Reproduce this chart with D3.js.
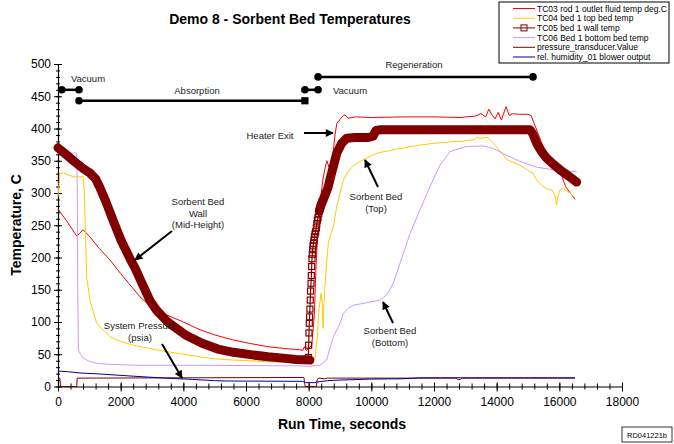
<!DOCTYPE html>
<html>
<head>
<meta charset="utf-8">
<script src="https://cdn.jsdelivr.net/npm/d3@7"></script>
<style>
    body { margin: 0; background: #fff; }
    svg { display: block; font-family: Arial, "Liberation Sans", sans-serif; }
</style>
</head>
<body>
<div id="chart"></div>
<script>
// Readings taken off the plot (time in seconds, value in C or psia)
var tc03Time = [0, 300, 600, 700, 800, 1000, 1300, 1660, 2000, 2617, 3000, 3468, 4000, 4532, 5000, 5595, 6100, 6659, 7200, 7723, 7820, 7860, 7920, 8000, 8100, 8180, 8230, 8280, 8330, 8380, 8450, 8530, 8580, 8650, 8700, 8780, 8840, 8900, 9000, 9100, 9160, 9260, 9500, 10000, 11000, 12000, 12900, 13000, 13300, 13500, 13650, 13750, 13850, 13950, 14050, 14150, 14300, 14400, 14500, 14700, 15000, 15100, 15300, 15500, 15700, 15900, 16050, 16200, 16350, 16500];
var tc03Temp = [275, 255, 233, 238, 243, 233, 215, 196, 175, 139, 122, 111, 100, 88, 80, 72, 67, 62, 59, 57, 56, 62, 56, 58, 65, 110, 180, 230, 250, 290, 320, 340, 350, 340, 345, 362, 390, 408, 414, 420, 421, 416, 418, 417, 418, 418, 417, 418, 419, 423, 418, 430, 421, 415, 425, 413, 434, 420, 423, 422, 422, 420, 395, 370, 355, 340, 330, 310, 300, 290];

var tc04Time = [0, 60, 170, 490, 750, 800, 840, 870, 915, 1020, 1235, 1660, 2000, 2404, 3000, 3468, 4000, 4532, 5000, 5595, 6100, 6659, 7200, 7723, 8100, 8200, 8280, 8330, 8400, 8430, 8460, 8490, 8521, 8580, 8627, 8700, 8786, 8900, 9000, 9106, 9250, 9425, 9600, 9800, 10200, 10915, 11500, 11978, 12500, 13043, 13300, 13360, 13500, 13700, 13787, 13893, 13947, 14106, 14212, 14319, 14500, 14745, 15000, 15170, 15277, 15436, 15649, 15755, 15850, 15915, 15960, 16021, 16128, 16250, 16340, 16500];
var tc04Temp = [294, 330, 331, 325, 325, 326, 300, 250, 170, 134, 98, 77, 70, 64, 58, 54, 50, 46, 43, 41, 40, 38.5, 37.5, 37, 38, 44, 80, 120, 145, 130, 90, 130, 155, 195, 222, 235, 248, 280, 300, 320, 333, 342, 348, 353, 362, 369, 374, 377, 379, 381, 383, 386, 385, 386, 383, 377, 374, 365, 359, 352, 348, 343, 335, 330, 320, 312, 305, 305, 298, 282, 295, 305, 307, 303, 300, 292];

// TC05 wall: cooling run, heating run, and the sparse samples on the fast rise
var tc05CoolTime = [0, 200, 540, 800, 1020, 1200, 1340, 1550, 1755, 2000, 2300, 2457, 2700, 2936, 3150, 3500, 4100, 4600, 5100, 5600, 6200, 6700, 7180, 7600, 8040];
var tc05CoolTemp = [370, 362, 348, 338, 331, 322, 308, 284, 258, 228, 198, 184, 158, 133, 118, 100, 79, 67, 58, 53, 49, 46, 44, 42, 41];
var tc05RiseTime = [7990, 8000, 8010, 8020, 8030, 8040, 8050, 8060, 8075, 8085, 8095, 8105, 8116, 8128, 8140, 8155, 8170, 8185, 8200, 8224, 8245, 8260, 8280, 8300, 8320, 8340, 8370, 8400, 8430];
var tc05RiseTemp = [45, 64, 83, 98, 108, 120, 134, 148, 160, 172, 186, 198, 205, 212, 218, 222, 227, 232, 236, 240, 246, 252, 258, 262, 268, 272, 278, 282, 286];
var tc05HeatTime = [8340, 8400, 8467, 8550, 8627, 8700, 8786, 8900, 9054, 9213, 9500, 9900, 10050, 10150, 10300, 11000, 12000, 13000, 14000, 15064, 15150, 15277, 15450, 15596, 15800, 16021, 16300, 16553];
var tc05HeatTemp = [272, 282, 290, 300, 310, 325, 341, 362, 377, 385, 386, 386, 388, 397, 398, 398, 398, 398, 398, 398, 392, 377, 363, 354, 345, 336, 326, 317];

var tc06Time = [0, 400, 600, 617, 630, 650, 720, 808, 1000, 1235, 1600, 2404, 4000, 6000, 7723, 8043, 8256, 8361, 8450, 8575, 8681, 8787, 9000, 9106, 9250, 9425, 9650, 9850, 10276, 10490, 10702, 10915, 11234, 11553, 11872, 12191, 12510, 12800, 13043, 13574, 13893, 14212, 14745, 15277, 15808, 16553];
var tc06Temp = [362, 362, 362, 300, 150, 57, 50, 44, 39, 36, 34.5, 33, 33, 32.5, 32, 31, 33, 33, 36, 41, 60, 77, 98, 113, 121, 126, 128, 130, 134, 142, 160, 191, 237, 274, 310, 343, 364, 369, 372, 373, 369, 361, 349, 340, 336, 333];

var pressTime = [0, 60, 80, 600, 610, 7830, 7850, 7870, 7890, 8250, 8270, 8330, 8500, 8600, 12700, 12750, 12850, 12900, 16500];
var pressVal = [13, 13, 0, 0, 13, 14, 14, 5, 0, 0, 11, 13, 12, 13, 13, 11, 11, 13, 13];

var humidTime = [0, 300, 700, 1300, 2400, 3400, 4300, 5000, 5500, 7800, 7900, 8200, 8250, 8600, 9000, 10000, 11000, 11600, 12000, 16500];
var humidVal = [24, 23, 21, 19.5, 16, 13, 11, 9, 8.5, 8, 6, 6, 7, 9, 10, 11.5, 12, 13.5, 13.5, 13.5];

var yTicks = [0, 50, 100, 150, 200, 250, 300, 350, 400, 450, 500];
var xTicks = [0, 2000, 4000, 6000, 8000, 10000, 12000, 14000, 16000, 18000];

// Process phases
var phaseNames = ["Vacuum", "Absorption", "Vacuum", "Regeneration"];
var phaseStart = [120, 670, 7880, 8300];
var phaseEnd = [670, 7880, 8300, 15160];
var phaseLevel = [460, 443, 460, 480];

var legendNames = ["TC03 rod 1 outlet fluid temp deg.C", "TC04 bed 1 top bed temp", "TC05 bed 1 wall temp",
    "TC06 Bed 1 bottom bed temp", "pressure_transducer.Value", "rel. humidity_01 blower output"];

(function() {
    "use strict";

    var width = 674;
    var height = 444;
    var plot = { left: 58, right: 622, top: 64, bottom: 386.5 };
    var colors = { tc03: "#ff0000", tc04: "#ffcc00", tc05: "#800000", tc06: "#cc99ff", press: "#800000", humid: "#000099" };

    var svg = d3.select("#chart").append("svg")
        .attr("width", width)
        .attr("height", height);

    var defs = svg.append("defs");
    defs.append("marker")
        .attr("id", "arrow")
        .attr("viewBox", "0 0 10 10")
        .attr("refX", 9)
        .attr("refY", 5)
        .attr("markerWidth", 4.5)
        .attr("markerHeight", 4)
        .attr("markerUnits", "strokeWidth")
        .attr("orient", "auto")
        .append("path")
        .attr("d", "M0,0 L10,5 L0,10 z")
        .attr("fill", "#000");

    var x = d3.scaleLinear().domain([0, 18000]).range([plot.left, plot.right]);
    var y = d3.scaleLinear().domain([0, 500]).range([plot.bottom, plot.top]);

    //------------------------------------------------------------------------------------------
    // Axes
    //------------------------------------------------------------------------------------------
    var yMinor = svg.append("g")
        .attr("transform", "translate(" + plot.left + ",0)")
        .call(d3.axisLeft(y).tickValues(d3.range(0, 501, 10)).tickSize(2).tickFormat(""));
    yMinor.selectAll(".tick line").attr("x1", 2);
    yMinor.select(".domain").remove();

    var xMinor = svg.append("g")
        .attr("transform", "translate(0," + plot.bottom + ")")
        .call(d3.axisBottom(x).tickValues(d3.range(0, 18001, 400)).tickSize(3).tickFormat(""));
    xMinor.selectAll(".tick line").attr("y1", -3);
    xMinor.select(".domain").remove();

    var yAxis = svg.append("g")
        .attr("transform", "translate(" + plot.left + ",0)")
        .call(d3.axisLeft(y).tickValues(yTicks).tickSize(4).tickSizeOuter(0));
    yAxis.selectAll(".tick line").attr("x1", 4);
    yAxis.selectAll("text").attr("x", -7).style("font-size", "12px").attr("fill", "#000");

    var xAxis = svg.append("g")
        .attr("transform", "translate(0," + plot.bottom + ")")
        .call(d3.axisBottom(x).tickValues(xTicks).tickSize(5).tickSizeOuter(0).tickFormat(d3.format("d")));
    xAxis.selectAll(".tick line").attr("y1", -4);
    xAxis.selectAll("text").attr("y", 11).style("font-size", "12px").attr("fill", "#000");

    svg.selectAll(".domain").attr("stroke", "#000").attr("stroke-width", 1.2);
    svg.selectAll(".tick line").attr("stroke", "#000");

    //------------------------------------------------------------------------------------------
    // Series
    //------------------------------------------------------------------------------------------
    function drawLine(times, vals, color, w) {
        var pts = times.map(function(t, i) { return [t, vals[i]]; });
        return svg.append("path")
            .datum(pts)
            .attr("fill", "none")
            .attr("stroke", color)
            .attr("stroke-width", w)
            .attr("stroke-linejoin", "round")
            .attr("d", d3.line().x(function(d) { return x(d[0]); }).y(function(d) { return y(d[1]); }));
    }

    drawLine(tc03Time, tc03Temp, colors.tc03, 1);
    drawLine(tc04Time, tc04Temp, colors.tc04, 1);
    drawLine(tc06Time, tc06Temp, colors.tc06, 1);

    drawLine(tc05CoolTime, tc05CoolTemp, colors.tc05, 9).attr("stroke-linecap", "round");
    drawLine(tc05RiseTime, tc05RiseTemp, colors.tc05, 1.2);
    drawLine(tc05HeatTime, tc05HeatTemp, colors.tc05, 9).attr("stroke-linecap", "round");

    svg.append("g").selectAll("rect")
        .data(tc05RiseTime)
        .enter()
        .append("rect")
        .attr("x", function(d) { return x(d) - 3; })
        .attr("y", function(d, i) { return y(tc05RiseTemp[i]) - 3; })
        .attr("width", 6)
        .attr("height", 6)
        .attr("fill", "none")
        .attr("stroke", colors.tc05)
        .attr("stroke-width", 1.2);

    drawLine(pressTime, pressVal, colors.press, 1);
    drawLine(humidTime, humidVal, colors.humid, 1);

    //------------------------------------------------------------------------------------------
    // Phase bars
    //------------------------------------------------------------------------------------------
    var phases = svg.append("g");
    phaseNames.forEach(function(name, i) {
        var x0 = x(phaseStart[i]), x1 = x(phaseEnd[i]), yy = y(phaseLevel[i]);
        phases.append("line")
            .attr("x1", x0).attr("x2", x1).attr("y1", yy).attr("y2", yy)
            .attr("stroke", "#000").attr("stroke-width", 2.5);
        phases.append("circle").attr("cx", x0).attr("cy", yy).attr("r", 3.8).attr("fill", "#000");
        if (name === "Absorption") {
            phases.append("rect").attr("x", x1 - 3.6).attr("y", yy - 3.6).attr("width", 7.2).attr("height", 7.2).attr("fill", "#000");
        } else {
            phases.append("circle").attr("cx", x1).attr("cy", yy).attr("r", 3.8).attr("fill", "#000");
        }
    });

    var phaseLabelX = [88, 197, 350, 414];
    var phaseLabelY = [82, 94, 94, 68];
    phaseNames.forEach(function(name, i) {
        phases.append("text")
            .attr("x", phaseLabelX[i]).attr("y", phaseLabelY[i])
            .attr("text-anchor", "middle")
            .style("font-size", "9.5px")
            .attr("fill", "#222")
            .text(name);
    });

    //------------------------------------------------------------------------------------------
    // Callouts
    //------------------------------------------------------------------------------------------
    var notes = [
        { lines: ["Heater Exit"], tx: 270, ty: 139, from: [304, 133], to: [333, 133] },
        { lines: ["Sorbent Bed", "Wall", "(Mid-Height)"], tx: 198, ty: 205, from: [172, 231], to: [135, 260] },
        { lines: ["System Pressure", "(psia)"], tx: 140, ty: 329, from: [162, 344], to: [182, 378] },
        { lines: ["Sorbent Bed", "(Top)"], tx: 376, ty: 200, from: [378, 187], to: [365, 160] },
        { lines: ["Sorbent Bed", "(Bottom)"], tx: 390, ty: 334, from: [393, 323], to: [383, 302] }
    ];
    var callouts = svg.append("g");
    notes.forEach(function(n) {
        callouts.append("line")
            .attr("x1", n.from[0]).attr("y1", n.from[1])
            .attr("x2", n.to[0]).attr("y2", n.to[1])
            .attr("stroke", "#000").attr("stroke-width", 2)
            .attr("marker-end", "url(#arrow)");
        n.lines.forEach(function(s, j) {
            callouts.append("text")
                .attr("x", n.tx).attr("y", n.ty + j * 11.5)
                .attr("text-anchor", "middle")
                .style("font-size", "9.5px")
                .attr("fill", "#222")
                .text(s);
        });
    });

    //------------------------------------------------------------------------------------------
    // Titles
    //------------------------------------------------------------------------------------------
    svg.append("text")
        .attr("x", 290).attr("y", 24)
        .attr("text-anchor", "middle")
        .style("font-size", "14px").style("font-weight", "bold")
        .text("Demo 8 - Sorbent Bed Temperatures");

    svg.append("text")
        .attr("x", 342).attr("y", 429)
        .attr("text-anchor", "middle")
        .style("font-size", "14px").style("font-weight", "bold")
        .text("Run Time, seconds");

    svg.append("text")
        .attr("transform", "translate(21,225) rotate(-90)")
        .attr("text-anchor", "middle")
        .style("font-size", "14px").style("font-weight", "bold")
        .text("Temperature, C");

    var tag = svg.append("g").attr("transform", "translate(622,427)");
    tag.append("rect").attr("width", 50).attr("height", 15).attr("fill", "#fff").attr("stroke", "#000").attr("stroke-width", 0.8);
    tag.append("text").attr("x", 25).attr("y", 10.5).attr("text-anchor", "middle").style("font-size", "7.5px").text("RD041221b");

    //------------------------------------------------------------------------------------------
    // Legend
    //------------------------------------------------------------------------------------------
    var legendColors = [colors.tc03, colors.tc04, colors.tc05, colors.tc06, colors.press, colors.humid];
    var legend = svg.append("g").attr("transform", "translate(499,2)");
    legend.append("rect")
        .attr("width", 170).attr("height", 61)
        .attr("fill", "#fff").attr("stroke", "#000").attr("stroke-width", 1);
    legendNames.forEach(function(name, i) {
        var yy = 6.5 + i * 9.7;
        legend.append("line")
            .attr("x1", 14).attr("x2", 36).attr("y1", yy).attr("y2", yy)
            .attr("stroke", legendColors[i]).attr("stroke-width", 1);
        if (i === 2) {
            legend.append("rect").attr("x", 22).attr("y", yy - 3).attr("width", 6).attr("height", 6)
                .attr("fill", "none").attr("stroke", legendColors[i]).attr("stroke-width", 1);
        }
        legend.append("text")
            .attr("x", 38).attr("y", yy + 3)
            .style("font-size", "8.5px")
            .text(name);
    });
})();
</script>
</body>
</html>
